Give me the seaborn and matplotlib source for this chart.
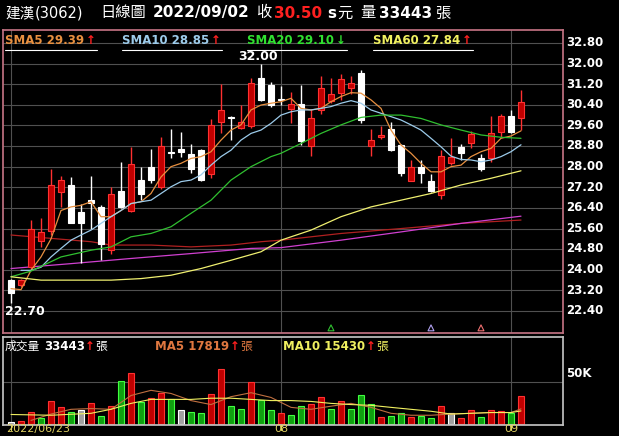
import numpy as np
import pandas as pd
import matplotlib
matplotlib.use('Agg')
import matplotlib.pyplot as plt
import seaborn as sns

# daily OHLC, 2022/06/23 .. 2022/09/02
opens = [23.6, 23.4, 24.1, 25.1, 25.5, 27.0, 27.3, 26.25, 26.7, 26.45, 24.75, 27.05, 26.3, 27.5, 28.0, 27.2,
         28.57, 28.68, 28.5, 28.65, 27.7, 29.75, 29.92, 29.5, 29.58, 31.45, 31.15, 30.62, 30.25, 30.43, 28.8,
         30.2, 30.55, 30.85, 31.05, 31.65, 28.8, 29.15, 29.45, 28.85, 27.45, 28.0, 27.45, 26.9, 28.13, 28.75,
         28.9, 28.32, 28.32, 29.35, 29.95, 29.87]
highs = [23.65, 23.65, 25.95, 26.0, 27.9, 27.65, 27.6, 26.55, 27.65, 26.5, 27.2, 28.2, 28.75, 28.0, 28.7, 29.15,
         29.45, 29.34, 28.87, 28.68, 29.85, 31.2, 29.95, 30.4, 31.45, 32.0, 31.27, 31.13, 30.9, 31.15, 30.25,
         31.5, 31.45, 31.6, 31.5, 31.75, 29.45, 29.58, 29.75, 28.88, 28.25, 28.25, 27.7, 28.65, 29.1, 28.88,
         29.38, 28.49, 29.95, 30.05, 30.2, 30.97]
lows = [22.7, 23.35, 24.05, 24.9, 25.35, 26.45, 25.8, 24.25, 25.6, 24.4, 24.6, 26.4, 26.25, 26.7, 27.35, 27.15,
        28.32, 28.36, 27.76, 27.45, 27.55, 29.3, 29.05, 29.45, 29.5, 30.55, 30.3, 30.39, 29.7, 28.85, 28.4,
        30.05, 30.45, 30.6, 30.8, 29.7, 28.4, 29.06, 28.62, 27.65, 27.43, 27.35, 27.0, 26.75, 28.05, 28.26,
        28.71, 27.84, 28.2, 29.15, 29.3, 29.42]
closes = [23.1, 23.6, 25.6, 25.45, 27.3, 27.5, 25.8, 25.8, 26.6, 25.0, 26.95, 26.45, 28.1, 26.95, 27.5, 28.8,
          28.53, 28.55, 27.9, 27.5, 29.6, 30.2, 29.88, 29.72, 31.25, 30.6, 30.4, 30.6, 30.43, 29.0, 29.9,
          31.05, 30.8, 31.4, 31.25, 29.8, 29.05, 29.22, 28.65, 27.75, 28.0, 27.75, 27.05, 28.4, 28.38, 28.52,
          29.25, 27.9, 29.32, 29.95, 29.35, 30.5]

sma5 = [23.27, 23.23, 23.98, 24.5, 25.2, 26.3, 26.44, 26.5, 26.64, 26.06, 26.06, 26.3, 26.57, 26.64, 26.96,
        27.6, 28.0, 28.13, 28.32, 28.39, 28.58, 29.03, 29.42, 29.62, 30.2, 30.39, 30.46, 30.52, 30.65, 30.26,
        30.2, 30.26, 30.52, 30.72, 30.87, 30.85, 30.59, 30.26, 29.42, 28.84, 28.52, 28.13, 27.8, 27.8, 28.0,
        28.06, 28.39, 28.58, 28.71, 29.1, 29.19, 29.39]
sma10 = [None, 23.98, 23.98, 24.1, 24.5, 24.83, 25.15, 25.35, 25.54, 25.8, 26.06, 26.3, 26.57, 26.64, 26.7,
         26.96, 27.22, 27.42, 27.48, 27.68, 28.06, 28.39, 28.64, 29.03, 29.29, 29.42, 29.68, 30.0, 30.13, 30.2,
         30.2, 30.26, 30.33, 30.46, 30.56, 30.46, 30.2, 30.07, 29.94, 29.81, 29.62, 29.42, 29.1, 28.77, 28.41,
         28.28, 28.26, 28.19, 28.26, 28.39, 28.58, 28.85]
sma20_idx = [0, 2, 5, 8, 10, 12, 14, 16, 18, 20, 22, 24, 26, 27, 29, 31, 33, 35, 37, 39, 41, 43, 45, 47, 49, 51]
sma20 = [23.73, 23.95, 24.5, 24.76, 24.89, 25.28, 25.41, 25.67, 26.19, 26.7, 27.48, 28.0, 28.39, 28.52, 28.9,
         29.29, 29.62, 29.91, 30.0, 30.0, 29.87, 29.62, 29.42, 29.23, 29.14, 29.1]
sma60_idx = [0, 3, 6, 10, 13, 16, 19, 22, 25, 27, 30, 33, 36, 39, 42, 45, 48, 51]
sma60 = [23.73, 23.6, 23.6, 23.6, 23.66, 23.79, 24.05, 24.37, 24.7, 25.15, 25.54, 26.06, 26.44, 26.7, 26.96,
         27.29, 27.55, 27.84]
long_idx = [0, 4, 8, 10, 14, 18, 22, 25, 27, 33, 39, 45, 51]
sma_red = [25.35, 25.22, 25.09, 24.96, 24.96, 24.89, 24.96, 25.09, 25.15, 25.41, 25.6, 25.8, 25.93]
mag_idx = [0, 6, 12, 18, 24, 27, 33, 39, 45, 51]
sma_mag = [24.05, 24.24, 24.44, 24.63, 24.83, 24.86, 25.15, 25.47, 25.8, 26.08]

# volume in thousand lots, colour = vs previous close
volume = [2.8, 3.3, 14, 7, 27.5, 19.6, 14, 16.3, 25, 9.3, 21, 51, 60, 26, 31, 37, 30, 16, 14, 12.6, 35, 65,
          21, 18, 50, 28.5, 17, 12.6, 11, 21, 24, 32, 18, 26.6, 18, 33.6, 23, 8.4, 9.8, 12.6, 8.4, 8.9, 7, 21,
          12.6, 7, 16.8, 8.4, 16.8, 15.4, 13.5, 33.4]
vol_dir = list('wrrgrrgwrgrgrgrrgwggrrggrggrggrrgrgggrggrggrwrrgrrgr')
vma_idx5 = [2, 4, 6, 8, 10, 12, 14, 16, 18, 20, 22, 24, 26, 28, 30, 32, 34, 36, 38, 40, 42, 44, 46, 48, 50, 51]
vma5 = [4.2, 11.7, 17.3, 18.2, 17.3, 33.6, 39.7, 36, 27.6, 22.9, 32.2, 36.9, 31.3, 19.6, 17.3, 21, 24.3, 19.6,
        12.6, 10.3, 10.3, 11.7, 12.6, 13.5, 13.5, 17.8]
vma_idx10 = [0, 4, 8, 10, 12, 14, 16, 18, 20, 22, 24, 26, 28, 30, 32, 34, 36, 38, 40, 42, 44, 46, 48, 50, 51]
vma10 = [11.2, 10.3, 12.6, 17.3, 24.3, 29, 29, 29, 30.4, 30.4, 29, 27.6, 27.6, 26.6, 24.3, 22.9, 22, 19.6,
         17.3, 15, 11.7, 12.6, 13.5, 13.5, 15.4]

price_ticks = [22.40, 23.20, 24.00, 24.80, 25.60, 26.40, 27.20, 28.00, 28.80, 29.60, 30.40, 31.20, 32.00, 32.80]
month_idx = [0, 27, 50]
month_labels = ['2022/06/23', '08', '09']

sns.set_theme(style='dark', rc={'axes.facecolor': 'black', 'figure.facecolor': 'black'})
plt.rcParams['font.family'] = ['DejaVu Sans', 'Noto Sans CJK TC']

W, H = 619, 436
fig = plt.figure(figsize=(W / 100, H / 100), dpi=100)
renderer = fig.canvas.get_renderer()


def px(x, y):
    return x / W, 1 - y / H


def chain(x, y, parts, size, gap=1.5):
    # parts: (text, colour, weight, extra gap before)
    for s, c, w, pre in parts:
        x += pre
        t = fig.text(*px(x, y), s, color=c, fontsize=size, fontweight=w, va='center')
        x += t.get_window_extent(renderer).width + gap
    return x


ax = fig.add_axes([3 / W, 1 - 333 / H, 560 / W, 303 / H])
axv = fig.add_axes([3 / W, 1 - 425 / H, 560 / W, 88 / H])

n = len(closes)
idx = np.arange(n)
df = pd.DataFrame({'i': idx, 'o': opens, 'h': highs, 'l': lows, 'c': closes})

for a in (ax, axv):
    a.set_xlim(-0.8, 55.2)
    for m in month_idx:
        a.axvline(m, color='#505050', lw=0.8, zorder=0)
    a.set_xticks([])
    a.set_yticks([])

ax.set_ylim(21.55, 33.30)
for t in price_ticks:
    ax.axhline(t, color='#505050', lw=0.8, zorder=0)
    fig.text(*px(566, 43 + (32.80 - t) / 0.8 * 20.6), f'{t:.2f}', color='white', fontsize=8.5,
             fontweight='bold', va='center', ha='left')
for s in ax.spines.values():
    s.set_color('#c07080')
for s in axv.spines.values():
    s.set_color('#c0c0c0')

up = df['c'] >= df['o']
colors = np.where(up, '#c00000', 'white')
edges = np.where(up, '#ff3030', 'white')
ax.vlines(df['i'], df['l'], df['h'], colors=edges, lw=1, zorder=2)
bottom = np.minimum(df['o'], df['c'])
height = np.maximum(np.abs(df['c'] - df['o']), 0.03)
ax.bar(df['i'], height, bottom=bottom, width=0.65, color=colors, edgecolor=edges, lw=0.8, zorder=3)

sns.lineplot(x=idx, y=sma5, ax=ax, color='#e89040', lw=0.9, zorder=4)
sns.lineplot(x=idx, y=sma10, ax=ax, color='#9ccbea', lw=0.9, zorder=4)
sns.lineplot(x=sma20_idx, y=sma20, ax=ax, color='#30c030', lw=0.9, zorder=4)
sns.lineplot(x=sma60_idx, y=sma60, ax=ax, color='#f0f070', lw=0.9, zorder=4)
sns.lineplot(x=long_idx, y=sma_red, ax=ax, color='#b02020', lw=0.9, zorder=1)
sns.lineplot(x=mag_idx, y=sma_mag, ax=ax, color='#d040d0', lw=0.9, zorder=1)

ax.scatter([32, 42, 47], [21.75] * 3, marker='^', s=18, facecolors='none',
           edgecolors=['#30c030', '#b0a0f0', '#f07070'], lw=0.8, zorder=5)
ax.text(24.7, 32.26, '32.00', color='white', fontsize=9, fontweight='bold', ha='center', va='center')
ax.text(-0.6, 22.40, '22.70', color='white', fontsize=9, fontweight='bold', ha='left', va='center')

# volume panel
axv.set_ylim(-1.2, 102.6)
axv.axhline(50, color='#505050', lw=0.8, zorder=0)
cmap = {'r': ('#c00000', '#ff3030'), 'g': ('#10a010', '#40ff40'), 'w': ('#a0a0a0', 'white')}
axv.bar(idx, volume, width=0.65, color=[cmap[d][0] for d in vol_dir],
        edgecolor=[cmap[d][1] for d in vol_dir], lw=0.8, zorder=2)
sns.lineplot(x=vma_idx5, y=vma5, ax=axv, color='#c07040', lw=0.8, zorder=3)
sns.lineplot(x=vma_idx10, y=vma10, ax=axv, color='#f0f060', lw=0.8, zorder=3)
fig.text(*px(566, 373), '50K', color='white', fontsize=8.5, fontweight='bold', va='center')

# header
chain(5, 13, [('建漢', 'white', 'normal', 0), ('(3062)', 'white', 'normal', 0)], 10.5, gap=0)
chain(100, 13, [('日線圖', 'white', 'normal', 0), ('2022/09/02', 'white', 'bold', 5),
                ('收', 'white', 'normal', 6), ('30.50', '#ff2020', 'bold', 1), ('s', 'white', 'bold', 3),
                ('元', 'white', 'normal', 0), ('量', 'white', 'normal', 6), ('33443', 'white', 'bold', 2),
                ('張', 'white', 'normal', 2)], 11)

sma_lab = [(5, 'SMA5 29.39', '#e89040', '↑', '#ff2020'),
           (122, 'SMA10 28.85', '#9ccbea', '↑', '#ff2020'),
           (247, 'SMA20 29.10', '#30e030', '↓', '#30e030'),
           (373, 'SMA60 27.84', '#f0f060', '↑', '#ff2020')]
for x, s, c, arr, ac in sma_lab:
    end = chain(x, 41, [(s, c, 'bold', 0), (arr, ac, 'bold', 0)], 8.5)
    fig.add_artist(plt.Line2D([x / W, end / W], [1 - 50 / H] * 2, color='white', lw=0.8))

chain(5, 346, [('成交量', 'white', 'normal', 0), ('33443', 'white', 'bold', 3), ('↑', '#ff2020', 'bold', 0),
               ('張', 'white', 'normal', 0)], 8.5, gap=0.5)
chain(155, 346, [('MA5 17819', '#e07840', 'bold', 0), ('↑', '#ff2020', 'bold', 0),
                 ('張', '#e07840', 'normal', 0)], 8.5, gap=0.5)
chain(283, 346, [('MA10 15430', '#f0f060', 'bold', 0), ('↑', '#ff2020', 'bold', 0),
                 ('張', '#f0f060', 'normal', 0)], 8.5, gap=0.5)

for m, lab in zip(month_idx, month_labels):
    xp = 3 + (m + 0.8) * 10
    fig.add_artist(plt.Line2D([xp / W] * 2, [1 - 425 / H, 1 - 430 / H], color='#e0e060', lw=0.8))
    ha = 'left' if m == 0 else 'center'
    fig.text(*px(xp - 5 if m == 0 else xp, 428.5), lab, color='#e0d060', fontsize=8, ha=ha, va='center')

fig.savefig('out.png', dpi=100, facecolor='black')
